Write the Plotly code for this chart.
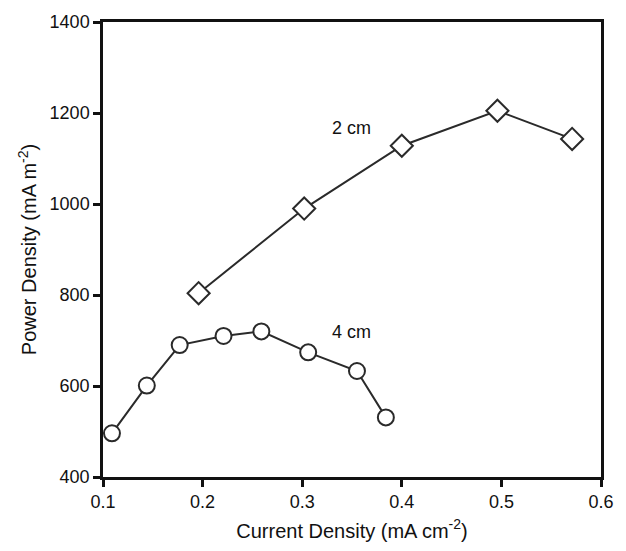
import plotly.graph_objects as go

x_2cm = [0.196, 0.302, 0.400, 0.496, 0.571]
y_2cm = [804, 990, 1128, 1205, 1143]
x_4cm = [0.109, 0.144, 0.177, 0.221, 0.259, 0.306, 0.355, 0.384]
y_4cm = [496, 601, 690, 710, 720, 674, 633, 531]

x_ticks = [0.1, 0.2, 0.3, 0.4, 0.5, 0.6]
y_ticks = [400, 600, 800, 1000, 1200, 1400]

FONT = "Liberation Sans, Arial, sans-serif"
LINE = "#2a2a2a"

fig = go.Figure()
fig.add_trace(go.Scatter(
    x=x_2cm, y=y_2cm, mode="lines+markers", name="2 cm",
    line=dict(color=LINE, width=2),
    marker=dict(symbol="diamond", size=17, color="white",
                line=dict(color=LINE, width=2)),
    cliponaxis=False,
))
fig.add_trace(go.Scatter(
    x=x_4cm, y=y_4cm, mode="lines+markers", name="4 cm",
    line=dict(color=LINE, width=2),
    marker=dict(symbol="circle", size=16, color="white",
                line=dict(color=LINE, width=2)),
    cliponaxis=False,
))

fig.add_annotation(x=0.349, y=1168, text="2 cm", showarrow=False,
                   font=dict(family=FONT, size=18, color="#111"))
fig.add_annotation(x=0.349, y=718, text="4 cm", showarrow=False,
                   font=dict(family=FONT, size=18, color="#111"))

axis_common = dict(
    showline=True, linecolor="#111", linewidth=2.5, mirror=True,
    ticks="outside", ticklen=7, tickwidth=2.5, tickcolor="#111",
    showgrid=False, zeroline=False,
    tickfont=dict(family=FONT, size=18, color="#111"),
    title_font=dict(family=FONT, size=20, color="#111"),
)

fig.update_xaxes(range=[0.1, 0.6], tickvals=x_ticks,
                 ticktext=[f"{v:.1f}" for v in x_ticks],
                 title_text="Current Density (mA cm<sup>-2</sup>)",
                 title_standoff=13, **axis_common)
fig.update_yaxes(range=[400, 1400], tickvals=y_ticks,
                 ticktext=[str(v) for v in y_ticks],
                 title_text="Power Density (mA m<sup>-2</sup>)",
                 title_standoff=8, **axis_common)

fig.update_layout(
    width=626, height=551,
    margin=dict(l=103, r=12, t=18, b=62),
    plot_bgcolor="white", paper_bgcolor="white",
    showlegend=False,
)

fig.write_html("out.html")
